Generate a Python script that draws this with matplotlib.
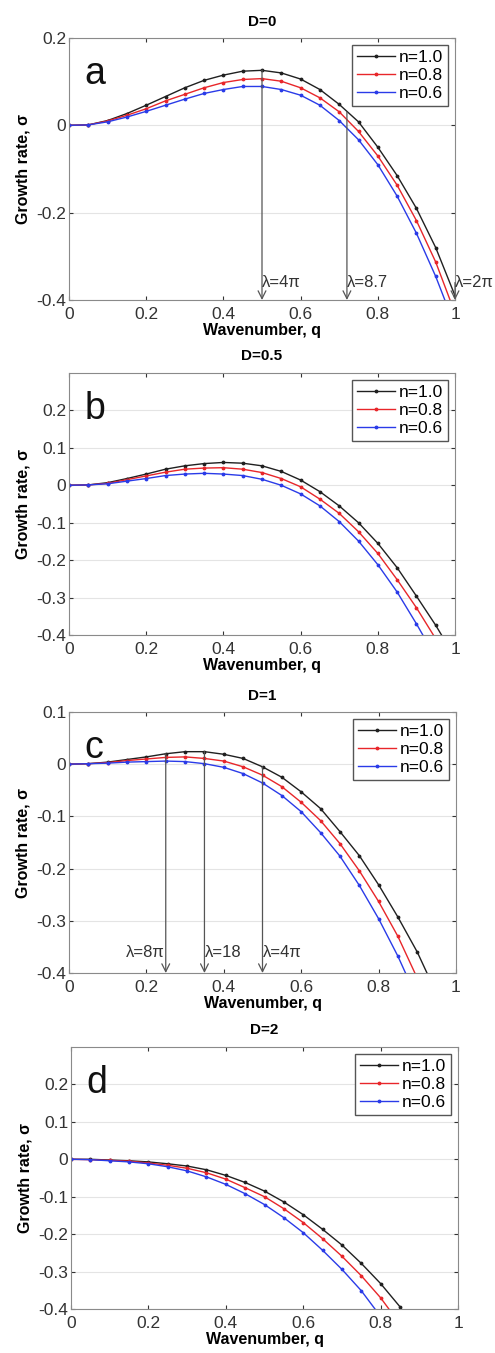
import numpy as np
import matplotlib
matplotlib.use("Agg")
import matplotlib.pyplot as plt

plt.rcParams["font.family"] = ["Liberation Sans", "DejaVu Sans"]

# Données : q de 0 à 1 par pas de 0.05
q = [0.0, 0.05, 0.1, 0.15, 0.2, 0.25, 0.3, 0.35, 0.4, 0.45, 0.5,
     0.55, 0.6, 0.65, 0.7, 0.75, 0.8, 0.85, 0.9, 0.95, 1.0]

# D=0
a_n10 = [0, 0.001, 0.011, 0.027, 0.046, 0.066, 0.086, 0.103, 0.115, 0.124, 0.126,
         0.12, 0.106, 0.082, 0.048, 0.008, -0.05, -0.115, -0.19, -0.28, -0.39]
a_n08 = [0, 0.001, 0.01, 0.023, 0.038, 0.056, 0.071, 0.086, 0.098, 0.105, 0.107,
         0.101, 0.086, 0.063, 0.031, -0.014, -0.07, -0.137, -0.218, -0.313, -0.43]
a_n06 = [0, 0.001, 0.008, 0.019, 0.032, 0.046, 0.06, 0.073, 0.082, 0.089, 0.089,
         0.082, 0.069, 0.046, 0.011, -0.033, -0.09, -0.162, -0.247, -0.346, -0.46]

# D=0.5
b_n10 = [0, 0.001, 0.007, 0.018, 0.03, 0.043, 0.052, 0.058, 0.061, 0.059, 0.052,
         0.037, 0.014, -0.017, -0.055, -0.1, -0.155, -0.22, -0.296, -0.374, -0.46]
b_n08 = [0, 0.001, 0.005, 0.015, 0.025, 0.035, 0.043, 0.046, 0.047, 0.043, 0.034,
         0.018, -0.004, -0.037, -0.075, -0.124, -0.182, -0.252, -0.327, -0.41, -0.5]
b_n06 = [0, 0.001, 0.004, 0.011, 0.018, 0.026, 0.03, 0.032, 0.03, 0.026, 0.016,
         0.0, -0.023, -0.055, -0.097, -0.149, -0.212, -0.285, -0.37, -0.46, -0.56]

# D=1
c_n10 = [0, 0.001, 0.004, 0.009, 0.014, 0.02, 0.024, 0.024, 0.019, 0.011, -0.005,
         -0.025, -0.053, -0.085, -0.129, -0.175, -0.231, -0.293, -0.36, -0.44, -0.53]
c_n08 = [0, 0.001, 0.003, 0.007, 0.01, 0.013, 0.014, 0.011, 0.006, -0.005, -0.021,
         -0.043, -0.073, -0.108, -0.152, -0.204, -0.263, -0.33, -0.41, -0.49, -0.58]
c_n06 = [0, 0.001, 0.002, 0.004, 0.005, 0.006, 0.005, 0.001, -0.006, -0.018, -0.036,
         -0.06, -0.091, -0.131, -0.176, -0.232, -0.296, -0.368, -0.45, -0.54, -0.63]

# D=2
d_n10 = [0, 0.0, -0.002, -0.004, -0.007, -0.012, -0.018, -0.028, -0.043, -0.062, -0.085,
         -0.114, -0.148, -0.187, -0.229, -0.278, -0.332, -0.394, -0.47, -0.55, -0.64]
d_n08 = [0, -0.001, -0.003, -0.005, -0.01, -0.016, -0.024, -0.036, -0.053, -0.076, -0.1,
         -0.132, -0.169, -0.212, -0.259, -0.311, -0.37, -0.44, -0.52, -0.6, -0.69]
d_n06 = [0, -0.001, -0.004, -0.007, -0.012, -0.02, -0.031, -0.047, -0.067, -0.092, -0.121,
         -0.156, -0.196, -0.243, -0.294, -0.351, -0.42, -0.49, -0.57, -0.66, -0.75]

titres = ["D=0", "D=0.5", "D=1", "D=2"]
lettres = ["a", "b", "c", "d"]
series = [(a_n10, a_n08, a_n06), (b_n10, b_n08, b_n06),
          (c_n10, c_n08, c_n06), (d_n10, d_n08, d_n06)]
noms = ["n=1.0", "n=0.8", "n=0.6"]
couleurs = ["#202020", "#e8262a", "#2a3be8"]
y_max = [0.2, 0.3, 0.1, 0.3]
y_ticks = [[-0.4, -0.2, 0, 0.2],
           [-0.4, -0.3, -0.2, -0.1, 0, 0.1, 0.2],
           [-0.4, -0.3, -0.2, -0.1, 0, 0.1],
           [-0.4, -0.3, -0.2, -0.1, 0, 0.1, 0.2]]

# Flèches : (q, départ, texte, côté du texte)
fleches_a = [(0.5, 0.126, "λ=4π", "right"), (0.72, 0.03, "λ=8.7", "right"),
             (1.0, -0.36, "λ=2π", "right")]
fleches_c = [(0.25, 0.02, "λ=8π", "left"), (0.35, 0.024, "λ=18", "right"),
             (0.5, -0.005, "λ=4π", "right")]
fleches = [fleches_a, [], fleches_c, []]

W, H = 495, 1353
fig = plt.figure(figsize=(W / 100, H / 100), dpi=100)

# positions en pixels (gauche, haut, droite, bas)
boites = [(69, 38, 455, 300), (69, 373, 455, 635), (69, 712, 456, 973), (71, 1047, 458, 1309)]

for i in range(4):
    g, h, d, b = boites[i]
    ax = fig.add_axes([g / W, 1 - b / H, (d - g) / W, (b - h) / H])
    for k in range(3):
        ax.plot(q, series[i][k], color=couleurs[k], marker=".", markersize=3.5,
                linewidth=1, label=noms[k])
    ax.set_xlim(0, 1)
    ax.set_ylim(-0.4, y_max[i])
    ax.set_xticks([0, 0.2, 0.4, 0.6, 0.8, 1])
    ax.set_xticklabels(["0", "0.2", "0.4", "0.6", "0.8", "1"])
    ax.set_yticks(y_ticks[i])
    ax.set_yticklabels(["0" if v == 0 else f"{v:g}" for v in y_ticks[i]])
    ax.grid(axis="y", color="#e4e4e4", linewidth=0.8)
    ax.set_axisbelow(True)
    ax.tick_params(direction="in", top=True, right=True, length=3,
                   labelsize=12.5, colors="#333333")
    ax.tick_params(axis="x", pad=5)
    ax.tick_params(axis="y", pad=2)
    for s in ax.spines.values():
        s.set_color("#8a8a8a")
    ax.set_title(titres[i], fontsize=11, fontweight="bold", pad=9)
    ax.set_xlabel("Wavenumber, q", fontsize=11.5, fontweight="bold", labelpad=1)
    ax.set_ylabel("Growth rate, σ", fontsize=11.5, fontweight="bold", labelpad=4)
    ax.text(0.04, 0.93, lettres[i], transform=ax.transAxes, fontsize=27,
            va="top", ha="left", color="#111111")
    leg = ax.legend(loc="upper right", fontsize=12.5, handlelength=2.2,
                    handletextpad=0.2, borderpad=0.3, labelspacing=0.15,
                    fancybox=False, framealpha=1, borderaxespad=0.4, numpoints=1)
    leg.get_frame().set_edgecolor("#555555")
    for (x0, y0, txt, cote) in fleches[i]:
        ax.annotate("", xy=(x0, -0.4), xytext=(x0, y0),
                    arrowprops=dict(arrowstyle="->", color="#555555", lw=0.9,
                                    shrinkA=0, shrinkB=0, mutation_scale=14),
                    annotation_clip=False)
        dx = 0.0 if cote == "right" else -0.003
        ax.text(x0 + dx, -0.36, txt, ha="left" if cote == "right" else "right",
                va="center", fontsize=12, color="#333333", clip_on=False)

fig.savefig("out.png", dpi=100)
